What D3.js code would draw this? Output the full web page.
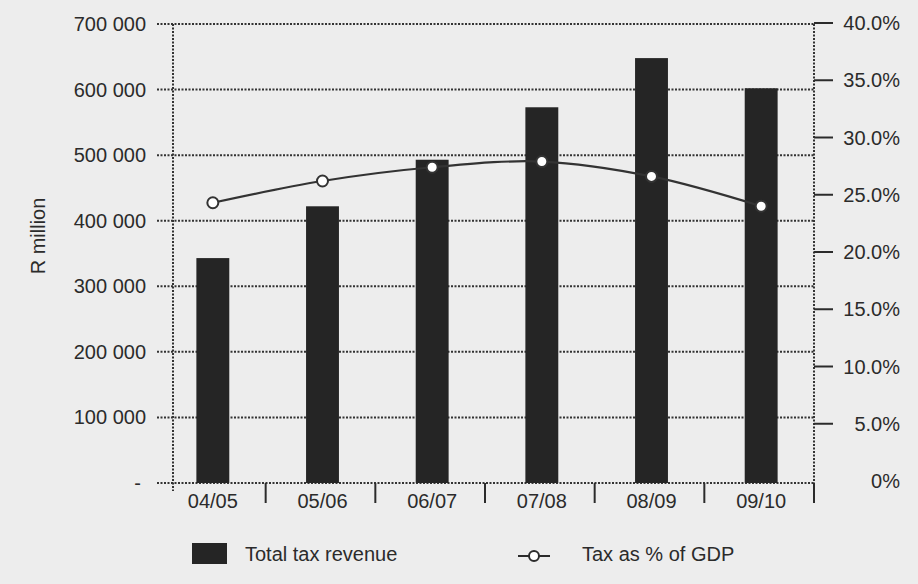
<!DOCTYPE html>
<html>
<head>
<meta charset="utf-8">
<script src="https://cdn.jsdelivr.net/npm/d3@7"></script>
<style>
  html, body { margin: 0; padding: 0; background: #ededed; }
  svg { display: block; font-family: "Liberation Sans", Arial, sans-serif; }
</style>
</head>
<body>
<script>
// data
const years = ["04/05", "05/06", "06/07", "07/08", "08/09", "09/10"];
const revenue = [343000, 422000, 493000, 573000, 648000, 602000];   // R million
const taxPctGdp = [24.3, 26.2, 27.4, 27.9, 26.6, 24.0];             // %
const leftTicks = [0, 100000, 200000, 300000, 400000, 500000, 600000, 700000];
const rightTicks = [0, 5, 10, 15, 20, 25, 30, 35, 40];

const width = 918;
const height = 584;
const plotLeft = 173, plotRight = 814, plotTop = 24, plotBottom = 483;
const ink = "#2b2b2b";

const svg = d3.select("body").append("svg")
    .attr("width", width)
    .attr("height", height);

const x = d3.scaleBand().domain(years).range([158, 816]).paddingInner(0.7).paddingOuter(0.35);
const y = d3.scaleLinear().domain([0, 700000]).range([plotBottom, plotTop]);
const y2 = d3.scaleLinear().domain([0, 40]).range([481, 23]);

const fmt = (v) => v === 0 ? "-" : d3.format(",")(v).replace(/,/g, " ");

// dotted gridlines
svg.append("g").selectAll("line")
    .data(leftTicks)
    .enter()
    .append("line")
    .attr("x1", 157)
    .attr("x2", plotRight)
    .attr("y1", (d) => y(d))
    .attr("y2", (d) => y(d))
    .attr("stroke", "#333")
    .attr("stroke-width", 2)
    .attr("stroke-dasharray", "2,1.5");

// dotted vertical axes
[plotLeft, plotRight].forEach((xx) => {
    svg.append("line")
        .attr("x1", xx).attr("x2", xx)
        .attr("y1", plotTop).attr("y2", 491)
        .attr("stroke", "#333")
        .attr("stroke-width", 2)
        .attr("stroke-dasharray", "2,1.5");
});

// left tick labels
svg.append("g").selectAll("text")
    .data(leftTicks)
    .enter()
    .append("text")
    .attr("x", (d) => d === 0 ? 141 : 146)
    .attr("y", (d) => y(d))
    .attr("dy", "0.35em")
    .attr("text-anchor", "end")
    .attr("font-size", 20)
    .attr("fill", ink)
    .text(fmt);

// right axis ticks + labels
const rAxis = svg.append("g").selectAll("g")
    .data(rightTicks)
    .enter()
    .append("g")
    .attr("transform", (d) => `translate(0, ${y2(d)})`);

rAxis.filter((d) => d > 0).append("line")
    .attr("x1", plotRight)
    .attr("x2", 833)
    .attr("stroke", ink)
    .attr("stroke-width", 2);

rAxis.append("text")
    .attr("x", 900)
    .attr("dy", "0.35em")
    .attr("text-anchor", "end")
    .attr("font-size", 20)
    .attr("fill", ink)
    .text((d) => d === 0 ? "0%" : d.toFixed(1) + "%");

// x axis ticks between categories
svg.append("g").selectAll("line")
    .data(years)
    .enter()
    .append("line")
    .attr("x1", (d) => x(d) - x.step() * x.paddingOuter() + x.step() - 2)
    .attr("x2", (d) => x(d) - x.step() * x.paddingOuter() + x.step() - 2)
    .attr("y1", plotBottom)
    .attr("y2", 503)
    .attr("stroke", ink)
    .attr("stroke-width", 2);

svg.append("g").selectAll("text")
    .data(years)
    .enter()
    .append("text")
    .attr("x", (d) => x(d) + x.bandwidth() / 2)
    .attr("y", 508)
    .attr("text-anchor", "middle")
    .attr("font-size", 20)
    .attr("fill", ink)
    .text((d) => d);

// bars
svg.append("g").selectAll("rect")
    .data(years)
    .enter()
    .append("rect")
    .attr("x", (d) => x(d))
    .attr("width", x.bandwidth())
    .attr("y", (d, i) => y(revenue[i]))
    .attr("height", (d, i) => plotBottom - y(revenue[i]))
    .attr("fill", "#252525");

// tax % of GDP line
const pts = years.map((d, i) => [x(d) + x.bandwidth() / 2, y2(taxPctGdp[i])]);

svg.append("path")
    .attr("d", d3.line().curve(d3.curveCatmullRom.alpha(0.5))(pts))
    .attr("fill", "none")
    .attr("stroke", "#333")
    .attr("stroke-width", 2.2);

svg.append("g").selectAll("circle")
    .data(pts)
    .enter()
    .append("circle")
    .attr("cx", (d) => d[0])
    .attr("cy", (d) => d[1])
    .attr("r", 5.5)
    .attr("fill", "#fff")
    .attr("stroke", "#333")
    .attr("stroke-width", 2);

// y axis title
svg.append("text")
    .attr("transform", "translate(38, 236) rotate(-90)")
    .attr("dy", "0.35em")
    .attr("text-anchor", "middle")
    .attr("font-size", 20)
    .attr("fill", ink)
    .text("R  million");

// legend
svg.append("rect")
    .attr("x", 192).attr("y", 543)
    .attr("width", 35).attr("height", 21)
    .attr("fill", "#252525");
svg.append("text")
    .attr("x", 245).attr("y", 561)
    .attr("font-size", 20)
    .attr("fill", ink)
    .text("Total tax revenue");

svg.append("line")
    .attr("x1", 518).attr("x2", 550)
    .attr("y1", 556).attr("y2", 556)
    .attr("stroke", ink)
    .attr("stroke-width", 2);
svg.append("circle")
    .attr("cx", 534).attr("cy", 556)
    .attr("r", 5)
    .attr("fill", "#fff")
    .attr("stroke", ink)
    .attr("stroke-width", 2);
svg.append("text")
    .attr("x", 582).attr("y", 561)
    .attr("font-size", 20)
    .attr("fill", ink)
    .text("Tax as % of GDP");
</script>
</body>
</html>
